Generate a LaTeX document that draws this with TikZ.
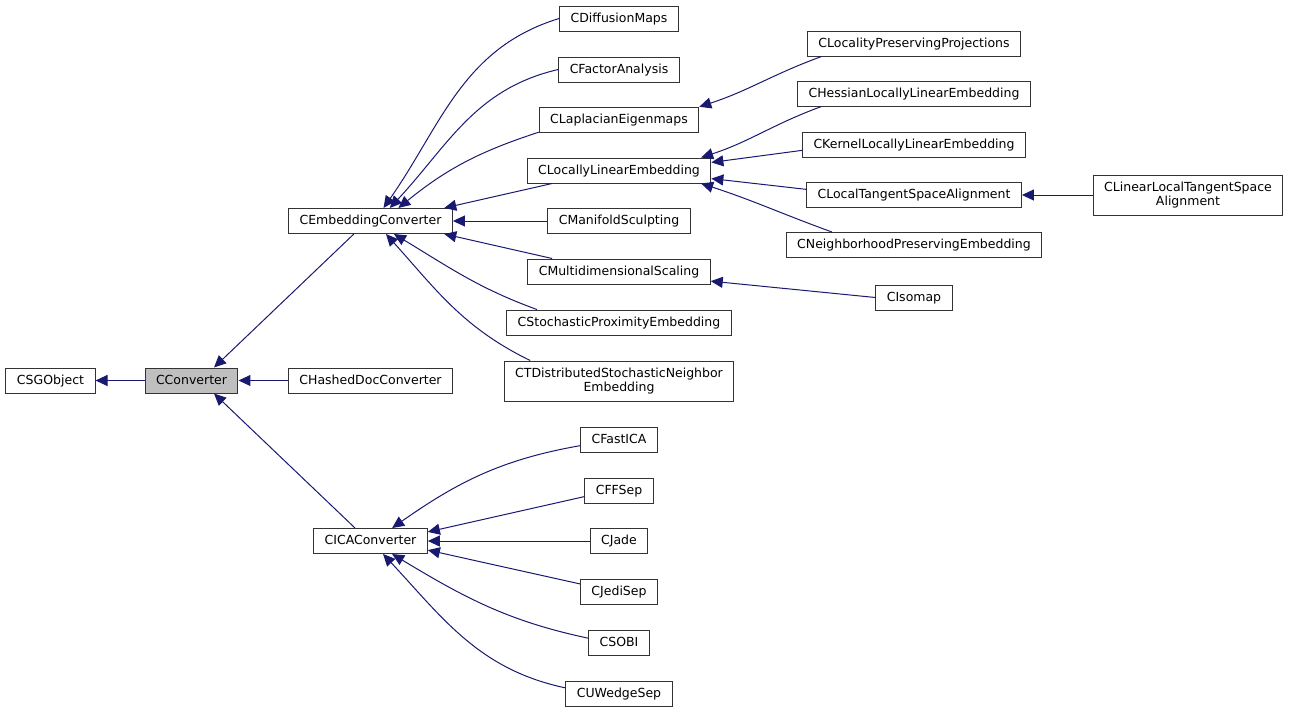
\documentclass[tikz,border=0pt]{standalone}
\usepackage{fontspec}
\setmainfont{DejaVu Sans}
\usepackage{xcolor}
\definecolor{edgeColor}{HTML}{191970}
\definecolor{hlColor}{HTML}{BFBFBF}
\usepackage{tikz}
\usetikzlibrary{positioning, arrows.meta}

\tikzset{
  cls/.style={draw=black!80, line width=1pt, fill=white, align=center,
    font=\fontsize{12.5}{14.7}\selectfont, inner xsep=11pt, minimum height=25pt,
    text height=9.5pt, text depth=2.5pt},
  cls2/.style={cls, text height={}, text depth={}, minimum height=40pt},
  inh/.style={draw=edgeColor, line width=1pt,
    -{Triangle[length=12pt,width=11pt,fill=edgeColor]}}
}

\begin{document}
\begin{tikzpicture}[x=1pt,y=1pt]
  \useasboundingbox (0,0) rectangle (1291,-712);

  % base classes
  \node[cls] (csg) at (50.5,-380.5) {CSGObject};
  \node[cls, fill=hlColor] (conv) at (191.5,-380.5) {CConverter};
  \node[cls] (emb) at (370.5,-221) {CEmbeddingConverter};
  \node[cls] (hdc) at (370.5,-380.5) {CHashedDocConverter};
  \node[cls] (ica) at (370.5,-541) {CICAConverter};

  % middle column
  \foreach \nm/\txt/\y in {diff/CDiffusionMaps/18.5, fa/CFactorAnalysis/69.5,
      lap/CLaplacianEigenmaps/119.5, lle/CLocallyLinearEmbedding/170.5,
      ms/CManifoldSculpting/221, mds/CMultidimensionalScaling/271.5,
      spe/CStochasticProximityEmbedding/322.5, fastica/CFastICA/439.5,
      ffsep/CFFSep/490.5, jade/CJade/541, jedi/CJediSep/591.5,
      sobi/CSOBI/642.5, uwedge/CUWedgeSep/693.5}
  \node[cls] (\nm) at (619,-\y) {\txt};
  \node[cls2] (tdsne) at (619,-381) {CTDistributedStochasticNeighbor\\Embedding};

  % right column
  \foreach \nm/\txt/\y in {lpp/CLocalityPreservingProjections/43.5,
      hlle/CHessianLocallyLinearEmbedding/93.5,
      klle/CKernelLocallyLinearEmbedding/144.5,
      ltsa/CLocalTangentSpaceAlignment/195,
      npe/CNeighborhoodPreservingEmbedding/245, iso/CIsomap/297.5}
  \node[cls] (\nm) at (914,-\y) {\txt};
  \node[cls2] (lltsa) at (1188,-195) {CLinearLocalTangentSpace\\Alignment};

  % straight edges
  \foreach \from/\to in {conv.west/csg.east, hdc.west/conv.east,
      emb.-142/conv.30, ica.140/conv.-30, lle.191/emb.10, ms.west/emb.east,
      mds.169/emb.-10, klle.183/lle.5, ltsa.177/lle.-5, iso.west/mds.-6,
      lltsa.west/ltsa.east, ffsep.190/ica.9, jade.west/ica.east, jedi.169/ica.-9}
  \draw[inh] (\from) -- (\to);

  % curved edges
  \foreach \from/\o/\i/\to in {diff.west/197/55/emb.45, fa.west/193/47/emb.34,
      lap.189/198/39/emb.25, spe.171/160/-31/emb.-29, tdsne.167/154/-48/emb.-40,
      lpp.188/200/18/lap.9, hlle.188/200/18/lle.9, npe.171/160/-18/lle.-9,
      fastica.189/190/35/ica.31, sobi.172/168/-31/ica.-31,
      uwedge.174/168/-47/ica.-46}
  \draw[inh] (\from) to[out=\o,in=\i] (\to);
\end{tikzpicture}
\end{document}
